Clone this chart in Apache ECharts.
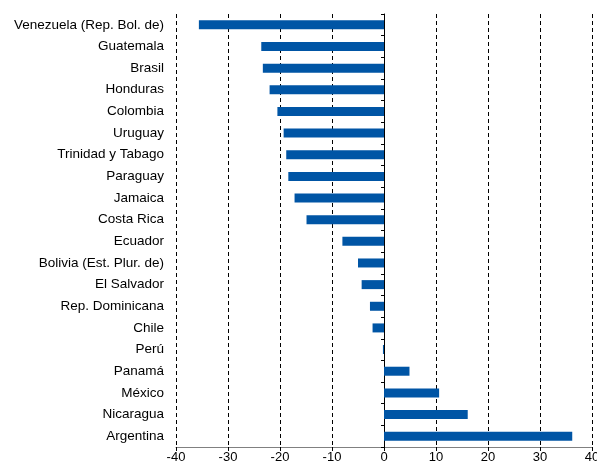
<!DOCTYPE html>
<html><head><meta charset="utf-8">
<script src="https://cdn.jsdelivr.net/npm/echarts@6/dist/echarts.min.js"></script>
<style>html,body{margin:0;padding:0;background:#fff}#c{width:597px;height:462px}</style>
</head><body><div id="c"></div>
<script>
const categories = ["Venezuela (Rep. Bol. de)","Guatemala","Brasil","Honduras","Colombia","Uruguay","Trinidad y Tabago","Paraguay","Jamaica","Costa Rica","Ecuador","Bolivia (Est. Plur. de)","El Salvador","Rep. Dominicana","Chile","Perú","Panamá","México","Nicaragua","Argentina"];
const values = [-35.6,-23.6,-23.3,-22.0,-20.5,-19.3,-18.8,-18.4,-17.2,-14.9,-8.0,-5.0,-4.3,-2.7,-2.2,-0.2,4.9,10.6,16.1,36.2];
const xTicks = {min:-40, max:40, interval:10};

const gridLeft = 176, gridRight = 5;
const plotW = 597 - gridLeft - gridRight;
const zeroOffset = -plotW * (0 - xTicks.min) / (xTicks.max - xTicks.min);

const chart = echarts.init(document.getElementById('c'), null, {renderer:'canvas'});
chart.setOption({
  animation:false,
  grid:{left:gridLeft, right:gridRight, top:14, bottom:15, containLabel:false, outerBoundsMode:'none'},
  xAxis:{type:'value', min:xTicks.min, max:xTicks.max, interval:xTicks.interval,
    axisLine:{show:true, onZero:false, lineStyle:{color:'#808080', width:1}},
    axisTick:{show:true, length:4, lineStyle:{color:'#000'}},
    axisLabel:{color:'#000', fontFamily:'Liberation Sans, Arial', fontSize:13, margin:4},
    splitLine:{show:true, lineStyle:{color:'#000', type:[4,3], width:1}}
  },
  yAxis:[
    {type:'category', data:categories, inverse:true,
      axisLine:{show:false}, axisTick:{show:false},
      axisLabel:{color:'#000', fontFamily:'Liberation Sans, Arial', fontSize:13.5, margin:12}
    },
    {type:'category', data:categories, inverse:true, position:'left', offset:zeroOffset,
      axisLine:{show:true, onZero:false, lineStyle:{color:'#000', width:1}},
      axisTick:{show:true, length:3, inside:false, lineStyle:{color:'#000'}},
      axisLabel:{show:false}, splitLine:{show:false}
    }
  ],
  series:[{type:'bar', data:values, yAxisIndex:0, barWidth:9,
    itemStyle:{color:'#0055a5'}}]
});
</script></body></html>
